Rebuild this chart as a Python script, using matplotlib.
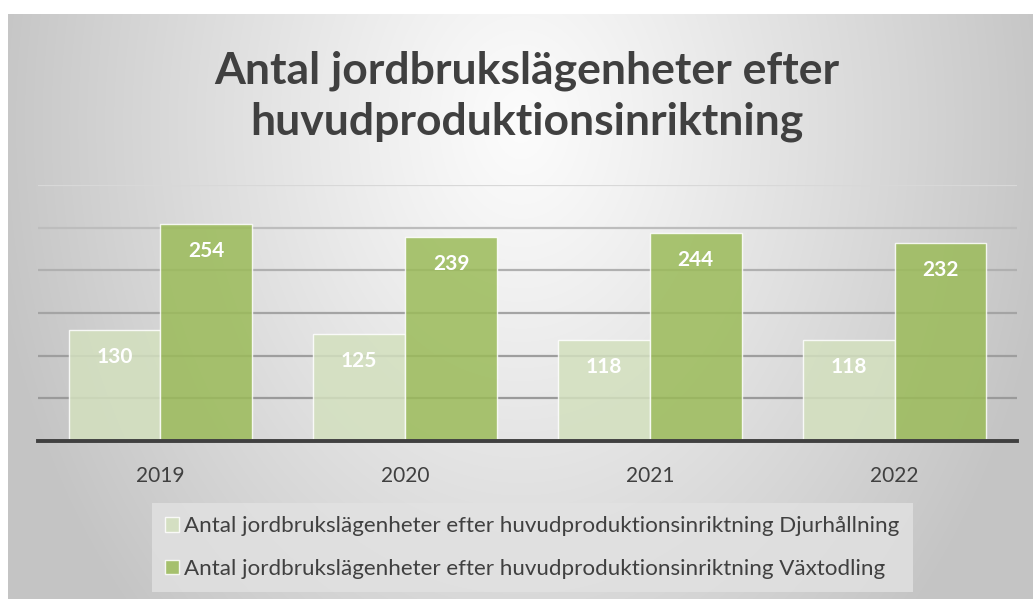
import numpy as np
import matplotlib
matplotlib.use("Agg")
import matplotlib.pyplot as plt

years = ["2019", "2020", "2021", "2022"]
djur = [130, 125, 118, 118]
vaxt = [254, 239, 244, 232]
series_names = [
    "Antal jordbrukslägenheter efter huvudproduktionsinriktning Djurhållning",
    "Antal jordbrukslägenheter efter huvudproduktionsinriktning Växtodling",
]
title = "Antal jordbrukslägenheter efter\nhuvudproduktionsinriktning"
yticks = [0, 50, 100, 150, 200, 250, 300]

W, H = 1033, 599
fig = plt.figure(figsize=(W / 100, H / 100), dpi=100)
fig.patch.set_facecolor("white")

# background radial gradient in chart area
bg = fig.add_axes([8 / W, 0, 1 - 8 / W, 1 - 14 / H], zorder=-10)
bw, bh = W - 8, H - 14
xx, yy = np.meshgrid(np.arange(bw), np.arange(bh))
cx, cy = bw * 0.5, 110
r = np.sqrt(((xx - cx) / 540.0) ** 2 + ((yy - cy) / 720.0) ** 2)
r = np.clip(r, 0, 1)
v = (252 - 56 * r ** 1.1) / 255.0
img = np.dstack([v, v, v])
bg.imshow(img, aspect="auto", interpolation="bilinear")
bg.set_axis_off()

ax = fig.add_axes([38 / W, 1 - 441 / H, (1017 - 38) / W, (441 - 185) / H])
ax.patch.set_alpha(0)
x = np.arange(len(years))
bwid = 0.375
grid_colors = ["#404040", "#9a9a9a", "#9e9e9e", "#a4a4a4", "#b0b0b0", "#bdbdbd", "#d8d8d8"]
for t, c in zip(yticks[1:], grid_colors[1:]):
    ax.axhline(t, color=c, lw=1.6, zorder=1)

b1 = ax.bar(x - bwid / 2, djur, bwid, color="#d3e0be", alpha=0.85,
            edgecolor=(1, 1, 1, 0.4), linewidth=1.0, zorder=2, label=series_names[0])
b2 = ax.bar(x + bwid / 2, vaxt, bwid, color="#9bbb59", alpha=0.85,
            edgecolor=(1, 1, 1, 0.4), linewidth=1.0, zorder=2, label=series_names[1])

for bars, vals in ((b1, djur), (b2, vaxt)):
    for rect, val in zip(bars, vals):
        ax.annotate(f"{val}", (rect.get_x() + rect.get_width() / 2, val),
                    xytext=(0, -27), textcoords="offset pixels",
                    ha="center", va="center", color="white",
                    fontsize=15, fontweight="bold", family="Lato", zorder=3)

ax.set_xlim(-0.5, len(years) - 0.5)
ax.set_ylim(0, 300)
ax.set_yticks([])
ax.set_xticks(x)
ax.set_xticklabels(years, fontsize=15, color="#404040", family="Lato")
ax.tick_params(axis="x", length=0, pad=18)
for s in ["top", "left", "right"]:
    ax.spines[s].set_visible(False)
ax.spines["bottom"].set_color("#404040")
ax.spines["bottom"].set_linewidth(2.8)
ax.spines["bottom"].set_zorder(4)

fig.text(527 / W, 1 - 96 / H, title, ha="center", va="center",
         fontsize=32, fontweight="bold", color="#404040", family="Lato",
         linespacing=1.32)

leg = fig.legend(handles=[b1, b2], loc="upper left",
                 bbox_to_anchor=(152 / W, 1 - 503 / H), frameon=True,
                 prop={"family": "Lato", "size": 16.1},
                 handlelength=0.6, handleheight=0.6, handletextpad=0.25,
                 labelspacing=1.0, borderpad=0.6, borderaxespad=0)
leg.get_frame().set_facecolor("#e2e2e2")
leg.get_frame().set_edgecolor("none")
leg.get_frame().set_alpha(0.8)
leg.get_frame().set_boxstyle("square", pad=0)
for t in leg.get_texts():
    t.set_color("#404040")

fig.savefig("out.png", dpi=100)
